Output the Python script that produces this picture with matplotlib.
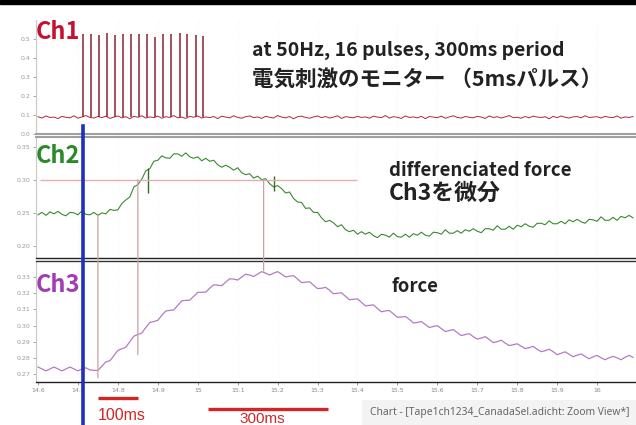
import matplotlib
matplotlib.use('Agg')
import matplotlib.pyplot as plt
import numpy as np
from matplotlib.patches import ConnectionPatch, Rectangle
from matplotlib.transforms import blended_transform_factory

# ---------------- data ----------------
T0 = 14.60          # time of first sample (s)
DT = 0.01           # sample spacing (s)

ch1_baseline = [0.091,0.084,0.095,0.087,0.089,0.081,0.093,0.088,0.085,0.096,
                0.083,0.090,0.097,0.087,0.084,0.092,0.086,0.094,0.082,0.089,
                0.095,0.085,0.091,0.080,0.093,0.088,0.096,0.084,0.090,0.086,
                0.094,0.083,0.091,0.087,0.097,0.085,0.089,0.082,0.093,0.088,
                0.095,0.084,0.090,0.086,0.092,0.081,0.094,0.089,0.085,0.096,
                0.087,0.083,0.091,0.095,0.086,0.090,0.082,0.093,0.088,0.084,
                0.097,0.089,0.085,0.092,0.080,0.091,0.094,0.087,0.083,0.090,
                0.095,0.086,0.092,0.084,0.089,0.096,0.082,0.091,0.088,0.085,
                0.093,0.087,0.090,0.083,0.094,0.089,0.086,0.097,0.084,0.091,
                0.088,0.082,0.095,0.087,0.090,0.085,0.093,0.081,0.092,0.089,
                0.086,0.094,0.083,0.090,0.096,0.087,0.084,0.092,0.088,0.085,
                0.093,0.089,0.082,0.095,0.087,0.091,0.084,0.090,0.097,0.086,
                0.088,0.083,0.092,0.085,0.094,0.089,0.087,0.091,0.080,0.093,
                0.086,0.095,0.088,0.084,0.090,0.092,0.085,0.096,0.087,0.089,
                0.091,0.084,0.093,0.088,0.086,0.095,0.083,0.090,0.087,0.092]

pulse_times   = [14.712,14.733,14.752,14.774,14.793,14.813,14.833,14.852,
                 14.873,14.893,14.914,14.934,14.955,14.974,14.995,15.014]
pulse_heights = [0.525,0.525,0.520,0.530,0.520,0.525,0.525,0.528,
                 0.528,0.512,0.528,0.525,0.533,0.525,0.520,0.514]
pulse_base = 0.088

ch2_diff = [0.2468,0.2505,0.2460,0.2513,0.2483,0.2520,0.2475,0.2453,0.2505,0.2498,
            0.2468,0.2528,0.2475,0.2468,0.2505,0.2460,0.2498,0.2483,0.2550,0.2535,
            0.2543,0.2640,0.2693,0.2738,0.2888,0.2925,0.3008,0.3135,0.3165,0.3278,
            0.3293,0.3360,0.3330,0.3323,0.3390,0.3390,0.3353,0.3405,0.3345,0.3323,
            0.3345,0.3285,0.3323,0.3278,0.3293,0.3225,0.3188,0.3218,0.3188,0.3143,
            0.3180,0.3105,0.3075,0.3090,0.3023,0.3053,0.3000,0.3015,0.2940,0.2888,
            0.2910,0.2865,0.2798,0.2813,0.2715,0.2663,0.2655,0.2565,0.2573,0.2505,
            0.2505,0.2423,0.2363,0.2385,0.2348,0.2288,0.2318,0.2243,0.2213,0.2235,
            0.2175,0.2213,0.2175,0.2205,0.2153,0.2123,0.2175,0.2160,0.2130,0.2190,
            0.2138,0.2130,0.2175,0.2130,0.2183,0.2160,0.2205,0.2160,0.2145,0.2205,
            0.2198,0.2175,0.2243,0.2190,0.2190,0.2228,0.2190,0.2243,0.2220,0.2258,
            0.2220,0.2198,0.2258,0.2258,0.2235,0.2303,0.2250,0.2250,0.2295,0.2250,
            0.2310,0.2288,0.2333,0.2295,0.2280,0.2340,0.2340,0.2318,0.2378,0.2333,
            0.2333,0.2370,0.2333,0.2393,0.2363,0.2400,0.2363,0.2340,0.2400,0.2393,
            0.2370,0.2438,0.2385,0.2385,0.2430,0.2385,0.2445,0.2423,0.2460,0.2423]

glitch_times = [14.875, 15.190]
glitch_low   = [0.2805, 0.2835]
glitch_high  = [0.3180, 0.3060]

ch3_force = [0.2743,0.2731,0.2719,0.2731,0.2743,0.2731,0.2719,0.2731,0.2743,0.2731,
             0.2719,0.2731,0.2738,0.2725,0.2722,0.2722,0.2748,0.2775,0.2782,0.2813,
             0.2846,0.2856,0.2866,0.2900,0.2934,0.2944,0.2954,0.2988,0.3018,0.3025,
             0.3032,0.3063,0.3090,0.3094,0.3097,0.3125,0.3153,0.3156,0.3157,0.3181,
             0.3206,0.3206,0.3207,0.3231,0.3253,0.3250,0.3247,0.3269,0.3290,0.3288,
             0.3282,0.3300,0.3318,0.3313,0.3304,0.3319,0.3334,0.3325,0.3313,0.3325,
             0.3334,0.3319,0.3301,0.3306,0.3309,0.3288,0.3266,0.3269,0.3271,0.3250,
             0.3229,0.3231,0.3237,0.3219,0.3197,0.3200,0.3203,0.3181,0.3160,0.3163,
             0.3165,0.3144,0.3122,0.3125,0.3128,0.3106,0.3085,0.3091,0.3093,0.3072,
             0.3051,0.3053,0.3056,0.3038,0.3016,0.3019,0.3025,0.3006,0.2988,0.2994,
             0.2999,0.2981,0.2963,0.2969,0.2975,0.2956,0.2938,0.2944,0.2949,0.2931,
             0.2916,0.2922,0.2931,0.2913,0.2894,0.2900,0.2909,0.2891,0.2876,0.2881,
             0.2887,0.2872,0.2857,0.2863,0.2871,0.2853,0.2838,0.2844,0.2853,0.2838,
             0.2819,0.2828,0.2837,0.2822,0.2807,0.2816,0.2824,0.2809,0.2794,0.2806,
             0.2815,0.2800,0.2788,0.2800,0.2809,0.2800,0.2788,0.2803,0.2815,0.2803]

# cursor / marker lines
ref_level = 0.300
ref_start, ref_end = 14.605, 15.400
marker_times  = [14.750, 14.850, 15.165]
marker_top    = [0.2455, 0.3000, 0.3000]   # value in Ch2 where marker starts
marker_bottom = [0.2675, 0.2819, 0.3338]   # value in Ch3 where marker ends
stim_onset = 14.7125

scalebar_starts = [14.750, 15.025]
scalebar_lengths = [0.100, 0.300]
scalebar_labels = ['100ms', '300ms']

xticks = [14.6,14.7,14.8,14.9,15.0,15.1,15.2,15.3,15.4,15.5,15.6,15.7,15.8,15.9,16.0]
xtick_labels = ['14.6','14.7','14.8','14.9','15','15.1','15.2','15.3','15.4','15.5',
                '15.6','15.7','15.8','15.9','16']
ch1_ticks = [0.0,0.1,0.2,0.3,0.4,0.5]
ch1_tick_labels = ['0.0','0.1','0.2','0.3','0.4','0.5']
ch2_ticks = [0.20,0.25,0.30,0.35]
ch2_tick_labels = ['0.20','0.25','0.30','0.35']
ch3_ticks = [0.27,0.28,0.29,0.30,0.31,0.32,0.33]
ch3_tick_labels = ['0.27','0.28','0.29','0.30','0.31','0.32','0.33']

XLIM = (14.595, 16.0975)

# ---------------- figure ----------------
W, H = 636, 425
fig = plt.figure(figsize=(W/100, H/100), dpi=100)
fig.patch.set_facecolor('white')
JP = ['Noto Sans CJK JP', 'DejaVu Sans']

def box(x0, y0, x1, y1):
    return [x0/W, 1-y1/H, (x1-x0)/W, (y1-y0)/H]

def ftext(x, y, s, **kw):
    return fig.text(x/W, 1-y/H, s, **kw)

ax1 = fig.add_axes(box(36, 20, 636, 134))
ax2 = fig.add_axes(box(36, 137, 636, 258))
ax3 = fig.add_axes(box(36, 261, 636, 382))

t1 = T0 + DT*np.arange(len(ch1_baseline))
t2 = T0 + DT*np.arange(len(ch2_diff))
t3 = T0 + DT*np.arange(len(ch3_force))

ax1.plot(t1, ch1_baseline, color='#b0283c', lw=0.7)
ax1.vlines(pulse_times, pulse_base, pulse_heights, color='#8e2030', lw=1.1)
ax1.set_ylim(0.0, 0.6)

ax2.plot(t2, ch2_diff, color='#3a8a30', lw=0.8)
ax2.vlines(glitch_times, glitch_low, glitch_high, color='#2f6e28', lw=1.0)
ax2.hlines(ref_level, ref_start, ref_end, color='#e2b0b0', lw=1.0)
ax2.set_ylim(0.1815, 0.3645)

ax3.plot(t3, ch3_force, color='#b57ac4', lw=0.9)
ax3.set_ylim(0.265, 0.340)

for ax, ticks, labels in [(ax1, ch1_ticks, ch1_tick_labels),
                          (ax2, ch2_ticks, ch2_tick_labels),
                          (ax3, ch3_ticks, ch3_tick_labels)]:
    ax.set_xlim(*XLIM)
    ax.set_facecolor('white')
    ax.set_yticks(ticks)
    ax.set_yticklabels(labels)
    ax.tick_params(axis='y', labelsize=4.5, colors='#999999', length=2, width=0.6, pad=2)
    ax.set_xticks(xticks)
    ax.grid(axis='x', color='#f1f1f1', lw=0.6, ls=':')
    ax.spines['right'].set_visible(False)
    ax.spines['left'].set_color('#c8c8c8')
    ax.spines['left'].set_linewidth(0.8)

ax1.spines['top'].set_visible(False)
ax1.spines['bottom'].set_color('#a0a0a0')
ax1.spines['bottom'].set_linewidth(1.5)
ax2.spines['top'].set_color('#a0a0a0')
ax2.spines['top'].set_linewidth(1.5)
ax2.spines['bottom'].set_color('#222222')
ax2.spines['bottom'].set_linewidth(1.0)
ax3.spines['top'].set_color('#333333')
ax3.spines['top'].set_linewidth(1.0)
ax3.spines['bottom'].set_color('#222222')
ax3.spines['bottom'].set_linewidth(1.0)

for ax in (ax1, ax2):
    ax.tick_params(axis='x', length=0, labelbottom=False)
ax3.set_xticklabels(xtick_labels)
ax3.tick_params(axis='x', labelsize=4.5, colors='#888888', length=2, width=0.6, pad=2)

# marker lines spanning Ch2 -> Ch3
for t, vt, vb in zip(marker_times, marker_top, marker_bottom):
    cp = ConnectionPatch(xyA=(t, vt), coordsA=ax2.transData,
                         xyB=(t, vb), coordsB=ax3.transData,
                         color='#c9a3a3', lw=0.9)
    fig.add_artist(cp)

# stimulus onset cursor and scale bars (x from data, y in figure fraction)
bt = blended_transform_factory(ax3.transData, fig.transFigure)
ax3.plot([stim_onset, stim_onset], [1-126/H, 0.0], transform=bt,
         color='#1f30c0', lw=2.6, clip_on=False, zorder=10)
bar_y = [1-398/H, 1-409/H]
for s, L, yb in zip(scalebar_starts, scalebar_lengths, bar_y):
    ax3.plot([s, s+L], [yb, yb], transform=bt, color='#d42424', lw=2.4,
             clip_on=False, solid_capstyle='butt')
ax3.text(scalebar_starts[0], 1-415/H, scalebar_labels[0], transform=bt,
         color='#d42424', fontsize=11.5, family='Liberation Sans',
         va='center', ha='left', clip_on=False)
ax3.text(scalebar_starts[1]+0.08, 1-412/H, scalebar_labels[1], transform=bt,
         color='#d42424', fontsize=11, family='Liberation Sans',
         va='top', ha='left', clip_on=False)

# top black bar
fig.add_artist(Rectangle((0, 1-4/H), 1, 4/H, transform=fig.transFigure,
                         color='black', zorder=5))
# status caption box
fig.add_artist(Rectangle((362/W, 0), (W-362)/W, 25/H, transform=fig.transFigure,
                         facecolor='#f3f3f3', edgecolor='none', zorder=1))
ftext(370, 413, 'Chart - [Tape1ch1234_CanadaSel.adicht: Zoom View*]',
      fontsize=7.4, color='#666666', va='center', ha='left', family='Noto Sans')

# channel labels
ftext(36, 32, 'Ch1', color='#c8102e', fontsize=17, weight='bold', va='center', ha='left', family=JP)
ftext(36, 156, 'Ch2', color='#2a8a2a', fontsize=17, weight='bold', va='center', ha='left', family=JP)
ftext(36, 285, 'Ch3', color='#a23cb4', fontsize=17, weight='bold', va='center', ha='left', family=JP)

# annotations
ftext(252, 50, 'at 50Hz, 16 pulses, 300ms period', fontsize=14, weight='bold',
      color='#222222', va='center', ha='left', family=JP)
ftext(252, 80, '電気刺激のモニター （5msパルス）', fontsize=15.5, weight='bold',
      color='#222222', va='center', ha='left', family=JP)
ftext(389, 170, 'differenciated force', fontsize=13.4, weight='bold',
      color='#222222', va='center', ha='left', family=JP)
ftext(389, 193, 'Ch3を微分', fontsize=16.5, weight='bold',
      color='#222222', va='center', ha='left', family=JP)
ftext(391, 287, 'force', fontsize=13.3, weight='bold',
      color='#222222', va='center', ha='left', family=JP)

fig.savefig('out.png', dpi=100)
